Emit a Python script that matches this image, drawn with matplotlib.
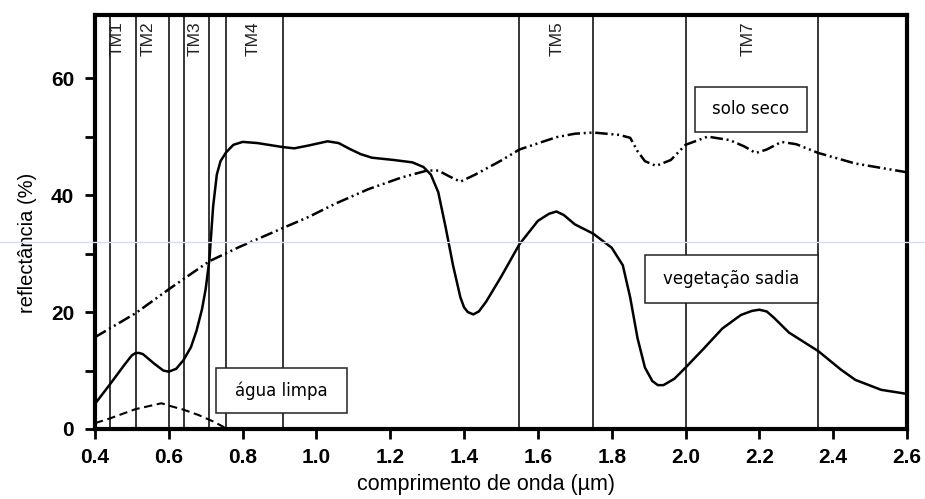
# reflectancia espectral - vegetacao, solo seco, agua

import matplotlib
matplotlib.use("Agg")
import matplotlib.pyplot as plt
from matplotlib.patches import Rectangle
from matplotlib.lines import Line2D

# curvas
veg_x = [0.40, 0.44, 0.48, 0.50, 0.51, 0.52, 0.53, 0.56, 0.585, 0.60, 0.62, 0.64,
         0.66, 0.675, 0.69, 0.70, 0.71, 0.72, 0.73, 0.74, 0.755, 0.775, 0.80,
         0.84, 0.88, 0.91, 0.94, 0.98, 1.03, 1.06, 1.09, 1.12, 1.15, 1.21, 1.26,
         1.29, 1.31, 1.33, 1.35, 1.37, 1.39, 1.40, 1.41, 1.425, 1.44, 1.46, 1.50,
         1.55, 1.60, 1.63, 1.65, 1.67, 1.70, 1.75, 1.80, 1.83, 1.85, 1.87, 1.89,
         1.91, 1.925, 1.94, 1.97, 2.00, 2.05, 2.10, 2.15, 2.18, 2.20, 2.22, 2.24,
         2.28, 2.36, 2.42, 2.46, 2.53, 2.60]
veg_y = [4.3, 7.6, 11.0, 12.6, 13.0, 13.0, 12.8, 11.2, 10.0, 9.8, 10.3, 11.8,
         14.0, 16.8, 20.5, 24.0, 29.0, 38.0, 43.5, 45.8, 47.3, 48.6, 49.1,
         48.9, 48.5, 48.2, 48.0, 48.5, 49.2, 48.9, 47.9, 47.0, 46.4, 46.0, 45.6,
         44.8, 43.5, 40.5, 34.5, 28.0, 22.5, 20.8, 20.0, 19.6, 20.1, 21.8, 26.0,
         31.6, 35.6, 36.8, 37.2, 36.6, 35.0, 33.4, 31.0, 28.0, 22.5, 15.5, 10.5,
         8.2, 7.5, 7.5, 8.6, 10.5, 13.8, 17.2, 19.5, 20.2, 20.4, 20.1, 19.0,
         16.5, 13.3, 10.2, 8.4, 6.7, 6.0]

solo_x = [0.40, 0.51, 0.60, 0.71, 0.79, 0.91, 0.98, 1.05, 1.14, 1.23, 1.30, 1.33,
          1.36, 1.39, 1.43, 1.50, 1.55, 1.65, 1.70, 1.75, 1.82, 1.85, 1.87, 1.89,
          1.92, 1.96, 2.00, 2.06, 2.12, 2.16, 2.19, 2.22, 2.26, 2.30, 2.36, 2.46, 2.60]
solo_y = [15.7, 19.8, 23.9, 28.7, 31.1, 34.4, 36.3, 38.5, 41.0, 43.0, 44.2, 44.2,
          43.2, 42.3, 43.5, 45.9, 47.8, 49.9, 50.5, 50.7, 50.3, 49.8, 47.5, 45.8,
          45.0, 46.0, 48.6, 50.0, 49.4, 48.3, 47.2, 47.8, 49.1, 48.7, 47.2, 45.4, 43.9]

agua_x = [0.40, 0.44, 0.51, 0.58, 0.60, 0.64, 0.68, 0.72, 0.75]
agua_y = [1.0, 1.8, 3.4, 4.4, 4.0, 3.3, 2.4, 1.3, 0.3]

# bandas do Landsat TM (limites das faixas)
band_edges = [0.44, 0.51, 0.60, 0.64, 0.71, 0.755, 0.91, 1.55, 1.75, 2.00, 2.36]
band_names = ["TM1", "TM2", "TM3", "TM4", "TM5", "TM7"]
band_label_x = [0.46, 0.545, 0.671, 0.828, 1.652, 2.17]

x_ticks = [0.4, 0.6, 0.8, 1.0, 1.2, 1.4, 1.6, 1.8, 2.0, 2.2, 2.4, 2.6]
y_ticks = [0, 10, 20, 30, 40, 50, 60]
y_tick_labels = ["0", "", "20", "", "40", "", "60"]

fig = plt.figure(figsize=(9.25, 4.99), dpi=100)
ax = fig.add_axes([95 / 925, 70 / 499, 812 / 925, 414 / 499])

# risco azul claro do scan
fig.add_artist(Line2D([0, 1], [0.516, 0.516], transform=fig.transFigure,
                      color="#d5ddf6", linewidth=1))

for xe in band_edges:
    ax.axvline(xe, color="black", linewidth=1.1, zorder=2)

for name, xl in zip(band_names, band_label_x):
    ax.text(xl, 0.985, name, transform=ax.get_xaxis_transform(), rotation=90,
            ha="center", va="top", fontsize=12.5, family="Liberation Sans",
            color="#222222")

ax.plot(veg_x, veg_y, color="black", linewidth=1.8, zorder=3)
ax.plot(solo_x, solo_y, color="black", linewidth=1.8, zorder=3,
        dashes=(5, 1.5, 0.8, 1.5, 0.8, 1.5))
ax.plot(agua_x, agua_y, color="black", linewidth=1.5, zorder=3, dashes=(4, 2.2))

# caixas de legenda
boxes = [("água limpa", 0.728, 1.083, 2.7, 10.4),
         ("solo seco", 2.026, 2.329, 50.8, 58.5),
         ("vegetação sadia", 1.89, 2.359, 21.5, 29.7)]
for txt, x0, x1, y0, y1 in boxes:
    ax.add_patch(Rectangle((x0, y0), x1 - x0, y1 - y0, facecolor="white",
                           edgecolor="#222222", linewidth=1.1, zorder=5))
    ax.text((x0 + x1) / 2, (y0 + y1) / 2, txt, ha="center", va="center",
            fontsize=12, family="DejaVu Sans", zorder=6)

ax.set_xlim(0.4, 2.6)
ax.set_ylim(0, 70.8)
ax.set_xticks(x_ticks)
ax.set_xticklabels([f"{v:.1f}" for v in x_ticks], fontsize=15,
                   fontweight="bold", family="Liberation Sans")
ax.set_yticks(y_ticks)
ax.set_yticklabels(y_tick_labels, fontsize=15, fontweight="bold",
                   family="Liberation Sans")
ax.tick_params(direction="out", length=7, width=2)
ax.tick_params(axis="x", pad=7)
ax.tick_params(axis="y", pad=8)

for s in ax.spines.values():
    s.set_linewidth(3)
    s.set_zorder(7)

ax.set_xlabel("comprimento de onda (µm)", fontsize=15.5, family="Liberation Sans")
ax.set_ylabel("reflectância (%)", fontsize=14.5, family="Liberation Sans")
ax.xaxis.set_label_coords(0.481, -0.108)
ax.yaxis.set_label_coords(-0.071, 0.449)

fig.savefig("out.png", dpi=100)
